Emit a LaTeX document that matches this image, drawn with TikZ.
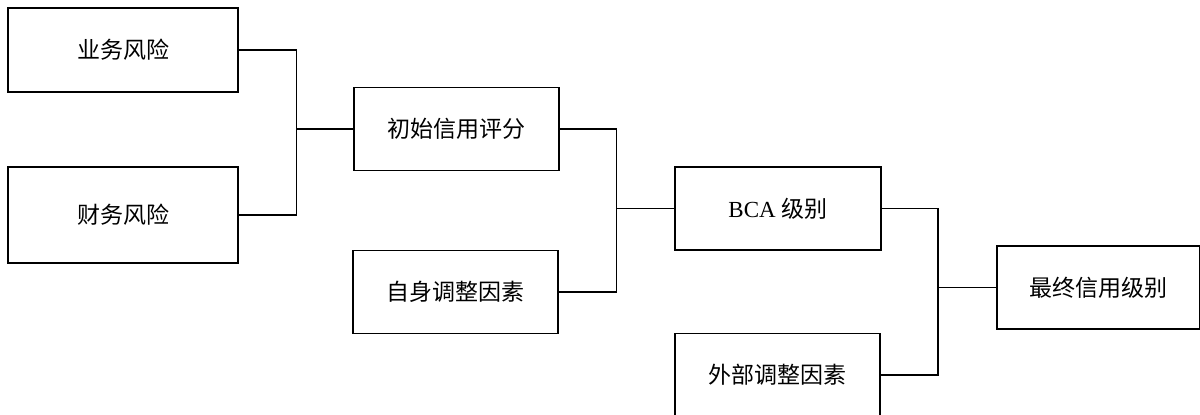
\documentclass[tikz,border=0pt]{standalone}
\usepackage{fontspec}
\setmainfont{Liberation Serif}
\newfontfamily\cjk{Noto Sans CJK SC}
\usepackage{tikz}
\usetikzlibrary{positioning}

\begin{document}
\begin{tikzpicture}[x=0.5pt,y=-0.5pt,
	box/.style={draw, line width=0.8pt, inner sep=0pt, minimum width=102.5pt, minimum height=41.5pt,
		font=\fontsize{11.5}{14}\selectfont},
	link/.style={line width=0.8pt}]

	\useasboundingbox (0,0) rectangle (1200,414);

	\node[box, minimum width=115pt, minimum height=42pt] (yw) at (123,50) {\cjk 业务风险};
	\node[box, minimum width=115pt, minimum height=48pt] (cw) at (123,215) {\cjk 财务风险};
	\node[box] (cs) at (456.5,129) {\cjk 初始信用评分};
	\node[box] (zs) at (455.5,292) {\cjk 自身调整因素};
	\node[box, minimum width=103pt] (bca) at (778,208.5) {BCA {\cjk 级别}};
	\node[box] (wb) at (777.5,375) {\cjk 外部调整因素};
	\node[box, minimum width=101.5pt] (zz) at (1098.5,287.5) {\cjk 最终信用级别};

	\coordinate (j1) at (296.5,129);
	\coordinate (j2) at (616.5,208.5);
	\coordinate (j3) at (938,287.5);

	\draw[link] (yw.east) -| (j1);
	\draw[link] (cw.east) -| (j1);
	\draw[link] (j1) -- (cs.west);

	\draw[link] (cs.east) -| (j2);
	\draw[link] (zs.east) -| (j2);
	\draw[link] (j2) -- (bca.west);

	\draw[link] (bca.east) -| (j3);
	\draw[link] (wb.east) -| (j3);
	\draw[link] (j3) -- (zz.west);
\end{tikzpicture}
\end{document}
